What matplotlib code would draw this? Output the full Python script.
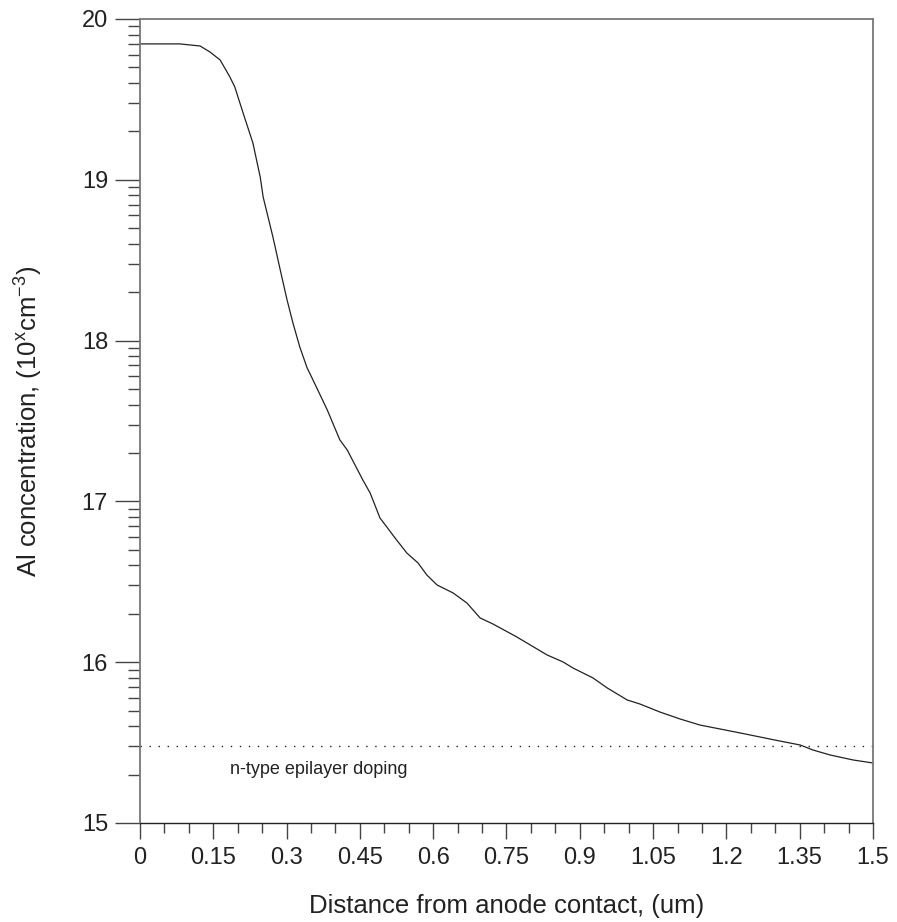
import numpy as np
import matplotlib
matplotlib.use('Agg')
import matplotlib.pyplot as plt
from matplotlib.ticker import FixedLocator

plt.rcParams['font.family'] = ['Liberation Sans', 'DejaVu Sans']

# Al concentration profile, log10 of cm^-3
depth = [0.0, 0.082, 0.123, 0.143, 0.164, 0.184, 0.194, 0.211, 0.231, 0.246,
         0.252, 0.272, 0.287, 0.301, 0.313, 0.327, 0.342, 0.354, 0.383, 0.409,
         0.424, 0.456,
         0.471, 0.491, 0.505, 0.522, 0.546, 0.569, 0.587, 0.608, 0.641, 0.669,
         0.696, 0.722, 0.771, 0.792, 0.833, 0.866, 0.886, 0.927, 0.956, 0.997,
         1.023, 1.064, 1.105, 1.146, 1.228, 1.299, 1.351, 1.377, 1.412, 1.459,
         1.500]
conc = [19.845, 19.845, 19.832, 19.795, 19.745, 19.639, 19.577, 19.415, 19.229, 19.017,
        18.893, 18.644, 18.439, 18.252, 18.109, 17.960, 17.830, 17.755, 17.570, 17.382,
        17.320, 17.133,
        17.052, 16.897, 16.841, 16.772, 16.679, 16.617, 16.542, 16.480, 16.430, 16.368,
        16.275, 16.238, 16.157, 16.119, 16.045, 16.001, 15.964, 15.902, 15.840, 15.765,
        15.740, 15.690, 15.647, 15.609, 15.560, 15.516, 15.485, 15.454, 15.423, 15.392,
        15.373]
epi_doping = np.log10(3e15)

x_major = [0, 0.15, 0.3, 0.45, 0.6, 0.75, 0.9, 1.05, 1.2, 1.35, 1.5]
x_labels = ['0', '0.15', '0.3', '0.45', '0.6', '0.75', '0.9', '1.05', '1.2', '1.35', '1.5']
y_major = [15, 16, 17, 18, 19, 20]

fig = plt.figure(figsize=(8.97, 9.22), dpi=100)
ax = fig.add_axes([0.1561, 0.1074, 0.8171, 0.8720])

ax.plot(depth, conc, color='#222222', lw=0.9)
ax.plot([0, 1.5], [epi_doping, epi_doping], color='#222222', lw=1.0,
        linestyle=(0, (1, 5.5)))
ax.text(0.184, 15.33, 'n-type epilayer doping', fontsize=13, color='#222222',
        va='center', ha='left')

ax.set_xlim(0, 1.5)
ax.set_ylim(15, 20)

ax.set_xticks(x_major)
ax.set_xticklabels(x_labels)
ax.xaxis.set_minor_locator(FixedLocator(np.arange(0, 1.5001, 0.05)))
ax.set_yticks(y_major)
ax.set_yticklabels([str(v) for v in y_major])
y_minor = [d + np.log10(k) for d in range(15, 20) for k in range(2, 10)]
ax.yaxis.set_minor_locator(FixedLocator(y_minor))

ax.tick_params(axis='x', which='major', direction='out', length=11.5, width=1,
               color='#444444', pad=6, labelsize=17, labelcolor='#222222')
ax.tick_params(axis='x', which='minor', direction='out', length=7, width=1,
               color='#444444')
ax.tick_params(axis='y', which='major', direction='out', length=18, width=1,
               color='#444444', pad=5, labelsize=17, labelcolor='#222222')
ax.tick_params(axis='y', which='minor', direction='out', length=8.6, width=1,
               color='#444444')

for side in ['top', 'left', 'right']:
    ax.spines[side].set_color('#777777')
    ax.spines[side].set_linewidth(1.3)
ax.spines['bottom'].set_color('#222222')
ax.spines['bottom'].set_linewidth(1.0)

ax.set_xlabel('Distance from anode contact, (um)', fontsize=18.5, color='#222222',
              labelpad=18)
ax.set_ylabel('Al concentration, (10$^{\\mathregular{x}}$cm$^{\\mathregular{-3}}$)',
              fontsize=18.5, color='#222222', labelpad=27)

fig.savefig('out.png', dpi=100)
